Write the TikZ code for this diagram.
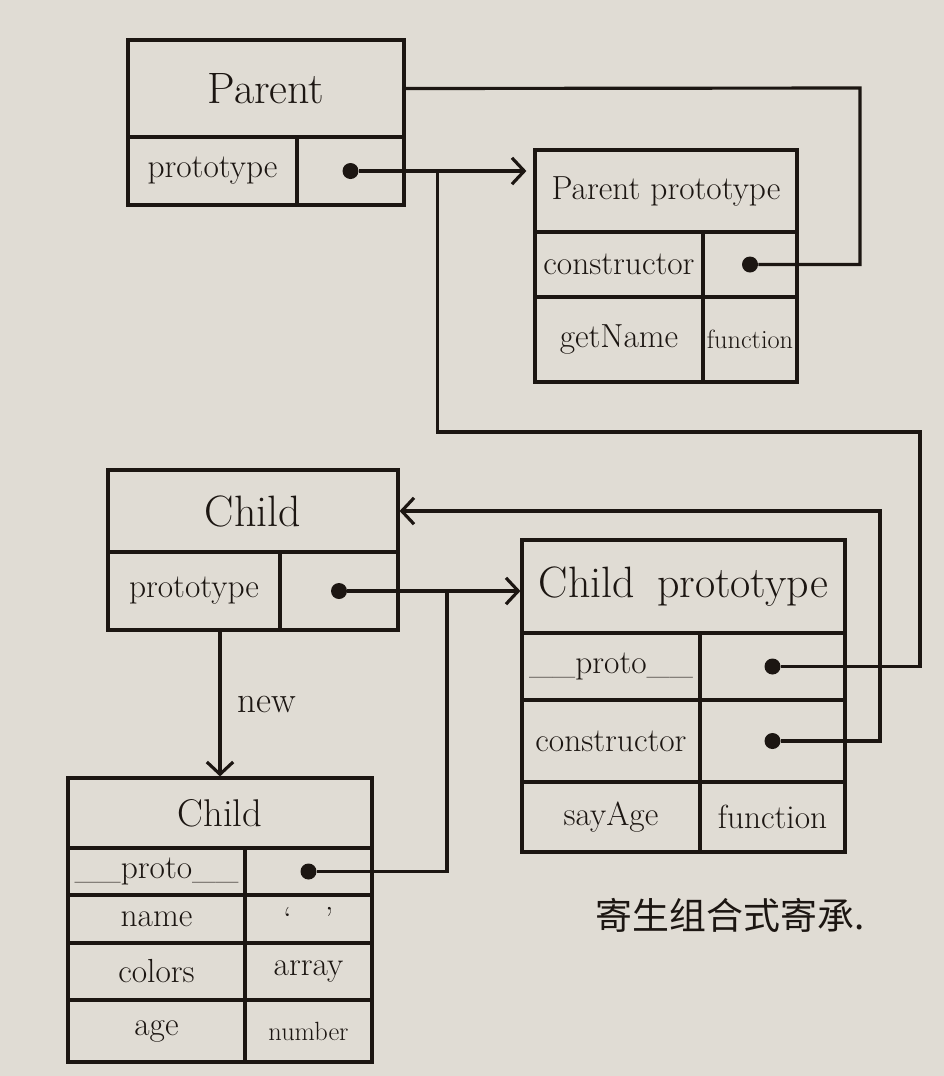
\documentclass[tikz,border=0pt]{standalone}
\usepackage{fontspec}
\newfontfamily\cjkfont{Noto Sans CJK SC}
\usetikzlibrary{arrows.meta, positioning, calc}
\definecolor{paper}{RGB}{224,220,212}
\definecolor{ink}{RGB}{28,22,18}

\begin{document}
\begin{tikzpicture}[x=0.02cm, y=-0.02cm,
    cell/.style 2 args={rectangle, draw=ink, line width=1.8pt,
        inner sep=0pt, minimum width=#1*0.02cm,
        minimum height=#2*0.02cm, text=ink},
    big/.style={font=\fontsize{25pt}{30pt}\selectfont},
    key/.style={font=\fontsize{19pt}{22pt}\selectfont},
    val/.style={font=\fontsize{15pt}{18pt}\selectfont},
    dot/.style={circle, fill=ink, inner sep=0pt, minimum size=0.32cm},
    wire/.style={ink, line width=1.8pt},
    arr/.style={wire, -{Straight Barb[length=7pt, width=15pt]}}, ]

    % paper
    \fill[paper] (0,0) rectangle (944,1076);

    % Parent
    \node[cell={276}{97}, big] (parent) at (266,88.5) {Parent};
    \node[cell={169}{68}, key] (parent-key) at (212.5,171) {prototype};
    \node[cell={107}{68}] (parent-val) at (350.5,171) {};
    \node[dot] (pdot) at (parent-val) {};

    % Parent prototype
    \node[cell={262}{82}, key] (pproto) at (666,191) {Parent prototype};
    \node[cell={168}{65}, key] (pcons-key) at (619,264.5) {constructor};
    \node[cell={94}{65}] (pcons-val) at (750,264.5) {};
    \node[dot] (pcdot) at (pcons-val) {};
    \node[cell={168}{85}, key] (pget-key) at (619,339.5) {getName};
    \node[cell={94}{85}, val] (pget-val) at (750,339.5) {function};

    % Child
    \node[cell={290}{82}, big] (child) at (253,511) {Child};
    \node[cell={172}{78}, key] (child-key) at (194,591) {prototype};
    \node[cell={118}{78}] (child-val) at (339,591) {};
    \node[dot] (cdot) at (child-val) {};

    % Child prototype
    \node[cell={323}{93}, big] (cproto) at (683.5,586.5) {Child\enspace prototype};
    \node[cell={178}{67}, key] (cpp-key) at (611,666.5) {\_\_proto\_\_};
    \node[cell={145}{67}] (cpp-val) at (772.5,666.5) {};
    \node[dot] (cppdot) at (cpp-val) {};
    \node[cell={178}{82}, key] (cpc-key) at (611,741) {constructor};
    \node[cell={145}{82}] (cpc-val) at (772.5,741) {};
    \node[dot] (cpcdot) at (cpc-val) {};
    \node[cell={178}{70}, key] (cps-key) at (611,817) {sayAge};
    \node[cell={145}{70}, key] (cps-val) at (772.5,817) {function};

    % instance
    \node[cell={304}{70}, key, font=\fontsize{22pt}{26pt}\selectfont]
        (inst) at (220,813) {Child};
    \node[cell={177}{47}, key] (ip-key) at (156.5,871.5) {\_\_proto\_\_};
    \node[cell={127}{47}] (ip-val) at (308.5,871.5) {};
    \node[dot] (ipdot) at (ip-val) {};
    \node[cell={177}{48}, key] (in-key) at (156.5,919) {name};
    \node[cell={127}{48}, key] (in-val) at (308.5,919) {`\quad'};
    \node[cell={177}{57}, key] (ic-key) at (156.5,971.5) {colors};
    \node[cell={127}{57}, key] (ic-val) at (308.5,971.5) {array};
    \node[cell={177}{62}, key] (ia-key) at (156.5,1031) {age};
    \node[cell={127}{62}, val] (ia-val) at (308.5,1031) {number};

    \node[text=ink, font=\cjkfont\fontsize{21pt}{24pt}\selectfont]
        (caption) at (730,915) {寄生组合式寄承.};

    % rails
    \coordinate (r1) at (860,88);
    \coordinate (r2) at (920,432);
    \coordinate (r4) at (880,511);
    \path (pdot) ++(87,0) coordinate (j1);
    \path (cdot) ++(108,0) coordinate (j2);

    \draw[arr, shorten >=4pt] (pdot) -- (pdot -| pproto.west);
    \draw[wire] (pcdot) -| (r1) -- (parent.east);
    \draw[wire] (cppdot) -| (r2) -| (j1);

    \draw[arr] (cdot) -- (cdot -| cproto.west);
    \draw[wire] (ipdot) -| (j2);
    \draw[arr] (cpcdot) -| (r4) -- (child.east);

    \draw[arr] (child-key.south -| inst.north) -- (inst.north)
    node[midway, right=6pt, text=ink, font=\fontsize{21pt}{24pt}\selectfont]
    (newlbl) {new};
\end{tikzpicture}
\end{document}
